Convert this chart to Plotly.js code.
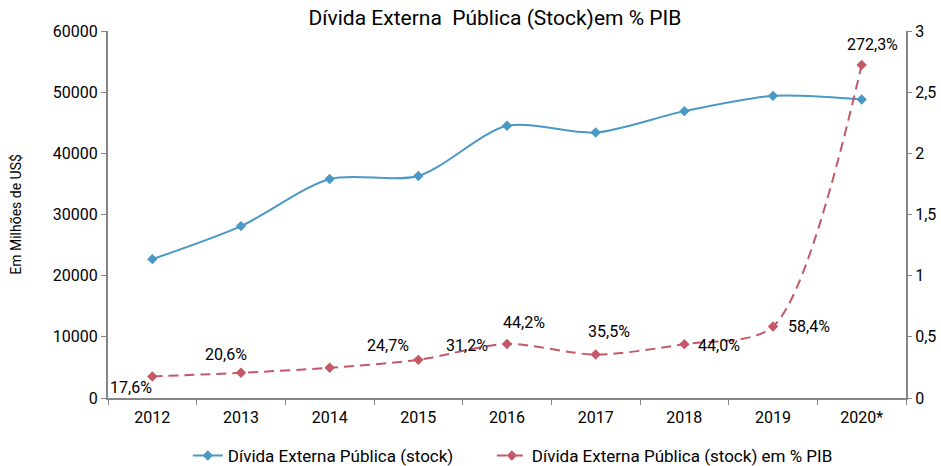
<!DOCTYPE html>
<html>
<head>
<meta charset="utf-8">
<script src="https://cdn.plot.ly/plotly-3.0.1.min.js"></script>
<style>html,body{margin:0;padding:0;background:#fff;}#chart{width:941px;height:466px;}</style>
</head>
<body>
<div id="chart"></div>
<script>
const years = ['2012','2013','2014','2015','2016','2017','2018','2019','2020*'];
const debtStock = [22700, 28100, 35800, 36300, 44500, 43400, 46900, 49400, 48800];
const debtPctGdp = [0.176, 0.206, 0.247, 0.312, 0.442, 0.355, 0.440, 0.584, 2.723];
const pctLabels = ['17,6%','20,6%','24,7%','31,2%','44,2%','35,5%','44,0%','58,4%','272,3%'];
const rightTicks = [0, 0.5, 1, 1.5, 2, 2.5, 3];
const rightTickLabels = ['0','0,5','1','1,5','2','2,5','3'];
const labelShiftX = [-21, -15, 58, 49, 17, 13, 35, 36, 11];
const labelShiftY = [-11, 18, 22, 14, 21, 23, -1, 0, 20];

const FONT = 'Roboto, "Liberation Sans Narrow", sans-serif';
const blue = '#4A98C4';
const red = '#C45866';
const axisGray = '#868686';

const xPos = years.map((_, i) => i);
const boundaries = years.map((_, i) => i - 0.5).concat([years.length - 0.5]);

const traces = [
  {
    x: xPos, y: debtStock, name: 'Dívida Externa Pública (stock)',
    type: 'scatter', mode: 'lines+markers',
    line: {color: blue, width: 2, shape: 'spline', smoothing: 0.8},
    marker: {symbol: 'diamond', size: 8, color: blue},
    xaxis: 'x', yaxis: 'y', legend: 'legend'
  },
  {
    x: xPos, y: debtPctGdp, name: 'Dívida Externa Pública (stock) em % PIB',
    type: 'scatter', mode: 'lines+markers',
    line: {color: red, width: 2, shape: 'spline', smoothing: 0.8, dash: '10px,6px'},
    marker: {symbol: 'diamond', size: 8, color: red},
    xaxis: 'x', yaxis: 'y2', legend: 'legend2'
  }
];

const annotations = xPos.map((xv, i) => ({
  x: xv, y: debtPctGdp[i], xref: 'x', yref: 'y2',
  text: pctLabels[i], showarrow: false,
  xshift: labelShiftX[i], yshift: labelShiftY[i],
  font: {family: FONT, size: 16, color: '#000'}
}));

const legendFont = {family: FONT, size: 17, color: '#000'};

const layout = {
  width: 941, height: 466,
  margin: {l: 108, r: 35, t: 31, b: 68, autoexpand: false},
  paper_bgcolor: '#fff', plot_bgcolor: '#fff',
  font: {family: FONT, size: 16, color: '#000'},
  title: {text: 'Dívida Externa  Pública (Stock)em % PIB', xref: 'container', x: 0.526, xanchor: 'center',
          yref: 'container', y: 0.962, yanchor: 'middle',
          font: {family: FONT, size: 21, color: '#000'}},
  showlegend: true,
  legend: {orientation: 'h', x: 0.100, xanchor: 'left', y: -0.158, yanchor: 'middle', font: legendFont},
  legend2: {orientation: 'h', x: 0.481, xanchor: 'left', y: -0.158, yanchor: 'middle', font: legendFont},
  xaxis: {
    type: 'linear', range: [-0.5, years.length - 0.5],
    tickmode: 'array', tickvals: xPos, ticktext: years, ticks: '', ticklabelstandoff: 4,
    minor: {tickmode: 'array', tickvals: boundaries, ticks: 'outside', ticklen: 5, tickcolor: axisGray, tickwidth: 1, showgrid: false},
    showline: true, linecolor: axisGray, linewidth: 2,
    showgrid: false, zeroline: false, tickangle: 0, tickfont: {family: FONT, size: 16}
  },
  yaxis: {
    range: [0, 60000], dtick: 10000, tickformat: 'd',
    showline: true, linecolor: axisGray, linewidth: 2,
    ticks: 'outside', ticklen: 5, tickcolor: axisGray,
    showgrid: false, zeroline: false, tickfont: {family: FONT, size: 16},
    title: {text: 'Em Milhões de US$', font: {family: FONT, size: 14}, standoff: 28}
  },
  yaxis2: {
    range: [0, 3], tickmode: 'array', tickvals: rightTicks, ticktext: rightTickLabels,
    overlaying: 'y', side: 'right',
    showline: true, linecolor: axisGray, linewidth: 2,
    ticks: 'outside', ticklen: 4, tickcolor: axisGray,
    showgrid: false, zeroline: false, tickfont: {family: FONT, size: 16}
  },
  annotations: annotations
};

Plotly.newPlot('chart', traces, layout, {displayModeBar: false, staticPlot: true});
</script>
</body>
</html>
